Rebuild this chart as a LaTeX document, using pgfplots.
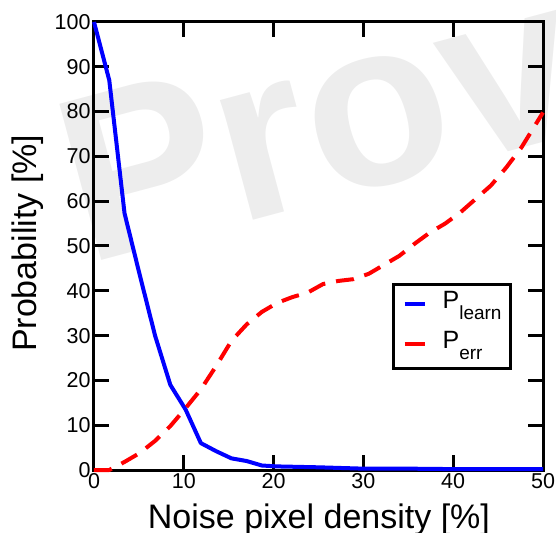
\documentclass[border=0pt]{standalone}
\usepackage{fontspec}
\setmainfont{Liberation Sans}
\usepackage{pgfplots}
\pgfplotsset{compat=1.18}
\begin{document}
\begin{tikzpicture}
\node[rotate=15, anchor=base west, text=black!7, font=\fontsize{235}{235}\selectfont\bfseries, inner sep=0pt] at (-8pt,205pt) {Prov};
\begin{axis}[
  scale only axis, width=449pt, height=448pt,
  xmin=0, xmax=50, ymin=0, ymax=100,
  xtick={0,10,...,50}, ytick={0,10,...,100},
  tick pos=both, ticklabel pos=left,
  tick align=inside, major tick length=15pt,
  every tick/.style={black, line width=3pt},
  axis line style={line width=3pt},
  clip=false,
  /pgf/number format/assume math mode=true,
  ticklabel style={font=\fontsize{21.5}{24}\selectfont},
  xlabel={Noise pixel density [\%]},
  ylabel={Probability [\%]},
  label style={font=\fontsize{34}{38}\selectfont},
  xlabel style={at={([yshift=-58pt]axis description cs:0.501,0)}, anchor=base},
  ylabel style={at={([xshift=-57pt]axis description cs:0,0.506)}, anchor=base, rotate=0},
  legend style={at={(axis description cs:0.664,0.417)}, anchor=north west, draw=black, line width=3pt,
    font=\fontsize{25}{25}\selectfont, inner xsep=9pt, inner ysep=7pt, row sep=10pt, column sep=16pt,
    nodes={inner sep=0pt, anchor=base west}},
  legend cell align=left,
  legend image code/.code={\draw[#1,solid] (0pt,16pt) -- (20pt,16pt);},
]
\addplot[blue, line width=4pt, line join=round] coordinates {
(0,100) (1.7,87) (3.4,57.3) (5.1,43.5) (6.8,30) (8.5,19) (10.2,13.5) (11.9,6) (13.6,4.2) (15.3,2.6) (17,2) (18.7,1) (20.4,0.8) (25,0.6) (30,0.3) (35,0.3) (40,0.2) (50,0.2)
};
\addlegendentry{\raisebox{11pt}{P}{\fontsize{19}{19}\selectfont learn}}
\addplot[red, line width=4pt, dash pattern=on 18pt off 11pt, line join=round] coordinates {
(0,0) (1.7,0) (3.4,1.8) (5.1,3.8) (6.8,6.5) (8.5,9.8) (10.2,13.8) (11.9,18) (13.6,23.2) (15.3,28.8) (17,32.5) (18.7,35.3) (20.4,37.3) (22.1,38.6) (23.8,39.6) (25.5,41.5) (27.2,42.2) (28.9,42.6) (30.6,43.8) (32.3,45.8) (34,47.8) (35.7,50.5) (37.4,53) (39.1,55) (40.8,57.5) (42.5,60.5) (44.2,63.5) (45.9,67.5) (47.6,72) (50,79.8)
};
\addlegendentry{\raisebox{11pt}{P}{\fontsize{19}{19}\selectfont err}}
\coordinate (sw) at (rel axis cs:0,0);
\coordinate (ne) at (rel axis cs:1,1);
\end{axis}
\pgfresetboundingbox
\path ([shift={(-94pt,-62pt)}]sw) rectangle ([shift={(13pt,22pt)}]ne);
\end{tikzpicture}
\end{document}
